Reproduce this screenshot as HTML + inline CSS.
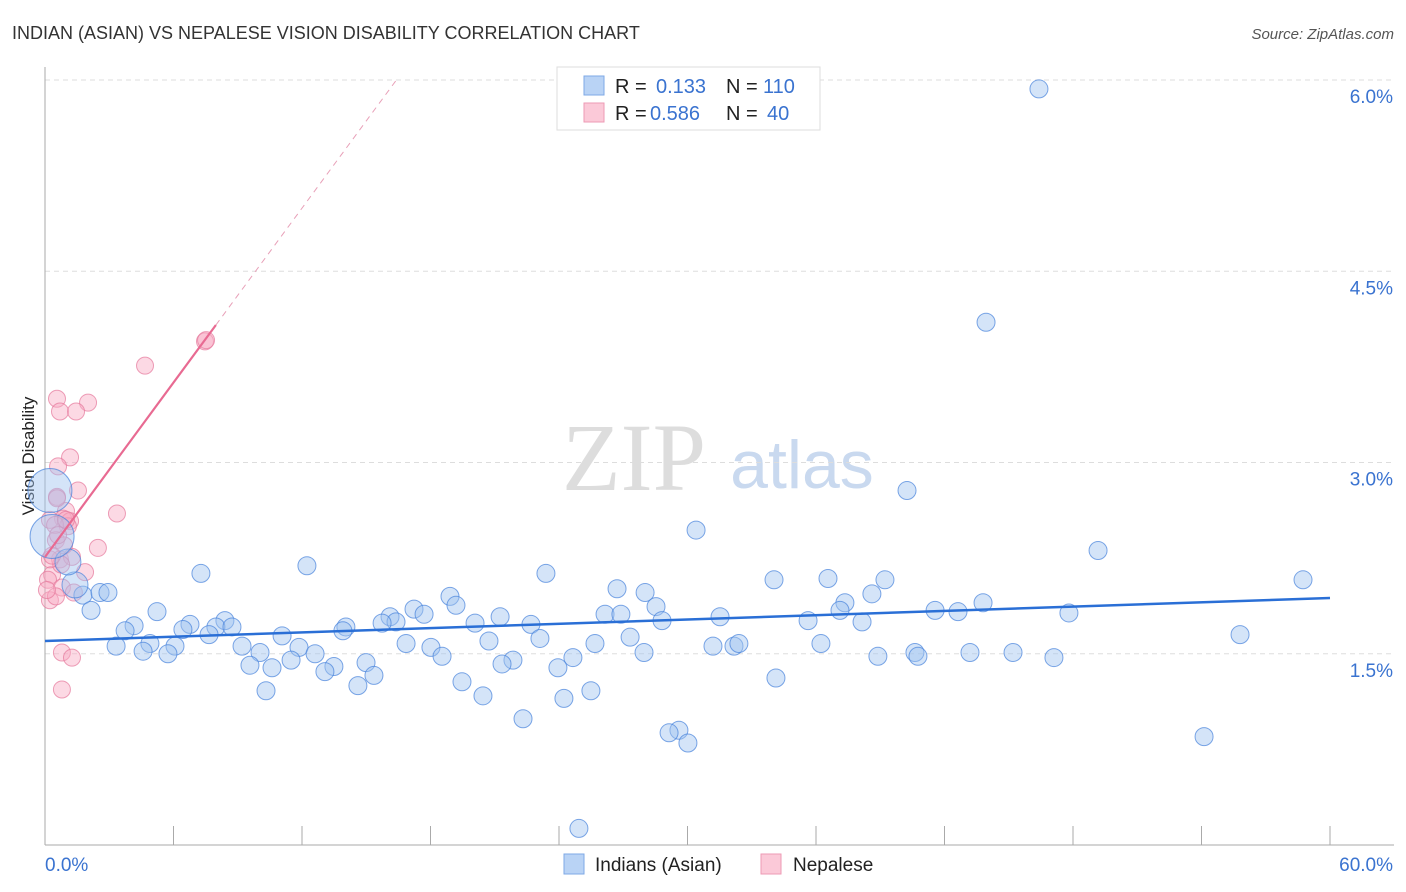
<!DOCTYPE html>
<html><head><meta charset="utf-8">
<style>
body{margin:0;background:#fff;font-family:"Liberation Sans",sans-serif;}
svg{display:block}
</style></head>
<body>
<svg id="chart" width="1406" height="892">
<text x="12" y="39" font-size="18" fill="#333">INDIAN (ASIAN) VS NEPALESE VISION DISABILITY CORRELATION CHART</text>
<text x="1394" y="39" font-size="15" fill="#555" font-style="italic" text-anchor="end">Source: ZipAtlas.com</text>
<text transform="translate(34,456) rotate(-90)" font-size="17" fill="#222" text-anchor="middle">Vision Disability</text>
<g>
<text x="634" y="490" font-size="96" fill="#ddd" font-family="Liberation Serif,serif" text-anchor="middle">ZIP</text>
<text x="802" y="488" font-size="68" fill="#c9d9ef" text-anchor="middle">atlas</text>
</g>
<g id="grid"></g><g id="marks"></g><g id="lines"></g>
<g>
<rect x="557" y="67" width="263" height="63" fill="#fff" stroke="#ddd"/>
<rect x="584" y="76" width="20" height="19" fill="#b9d3f5" stroke="#7ea8e6"/>
<rect x="584" y="103" width="20" height="19" fill="#fbc9d8" stroke="#ee9ab4"/>
<text x="615" y="93" font-size="20" fill="#222">R = </text><text x="656" y="93" font-size="20" fill="#3a73d0">0.133</text>
<text x="726" y="93" font-size="20" fill="#222">N = </text><text x="763" y="93" font-size="20" fill="#3a73d0">110</text>
<text x="615" y="120" font-size="20" fill="#222">R = </text><text x="650" y="120" font-size="20" fill="#3a73d0">0.586</text>
<text x="726" y="120" font-size="20" fill="#222">N = </text><text x="767" y="120" font-size="20" fill="#3a73d0">40</text>
</g>
<g>
<rect x="564" y="854" width="20" height="20" fill="#b9d3f5" stroke="#7ea8e6"/>
<text x="595" y="871" font-size="19" fill="#222">Indians (Asian)</text>
<rect x="761" y="854" width="20" height="20" fill="#fbc9d8" stroke="#ee9ab4"/>
<text x="793" y="871" font-size="19" fill="#222">Nepalese</text>
</g>
</svg>
<script>
const yTicks=[1.5,3.0,4.5,6.0];
const xTickVals=[0,6,12,18,24,30,36,42,48,54,60];
const blueX=[(1039),(986),(907),(696),(1098),(1303),(307),(201),(546),(774),(828),(885),(617),(645),(872),(450),(83),(100),(108),(75),(68),(52),(50),(91),(157),(456),(414),(424),(656),(845),(983),(935),(958),(1069),(605),(621),(500),(531),(390),(396),(382),(225),(190),(216),(232),(134),(183),(475),(662),(720),(808),(862),(840),(346),(343),(125),(209),(282),(540),(630),(116),(150),(175),(242),(299),(406),(431),(489),(595),(713),(734),(739),(821),(1240),(143),(168),(260),(315),(442),(513),(573),(644),(878),(915),(918),(970),(1013),(1054),(250),(272),(291),(334),(325),(366),(374),(502),(558),(462),(358),(266),(483),(591),(564),(776),(523),(679),(669),(688),(1204),(579)].map(p=>+((p-45)/1285*60).toFixed(2));
const blueY=[89,322,490,530,550,580,566,573,573,580,578,580,589,593,594,596,595,593,593,585,562,537,490,611,612,605,609,614,607,603,603,610,612,613,614,614,617,624,617,622,623,620,625,627,627,626,629,623,620,617,621,622,611,627,631,631,634,636,638,637,646,643,646,646,647,643,648,641,643,646,646,644,643,634,651,654,653,654,656,660,657,652,656,653,656,652,652,658,665,668,660,666,671,663,676,664,668,682,686,691,696,691,699,678,719,730,733,743,736,829].map(p=>+((845-p)/127.5).toFixed(2));
const blueR=blueY.map((v,i)=>i===21||i===22?22:(i===19||i===20?13:9));
const pinkX=[205,145,57,60,88,76,70,58,78,57,66,63,70,117,50,68,55,60,72,98,85,52,48,62,74,50,56,61,50,62,72,62,56,64,47,52,206,57,66,58].map(p=>+((p-45)/1285*60).toFixed(2));
const pinkY=[341,366,399,412,403,412,457,466,490,497,511,519,521,514,520,526,525,560,557,548,572,575,580,588,592,600,597,565,560,653,657,689,540,545,590,555,340,498,520,535].map(p=>+((845-p)/127.5).toFixed(2));
const blueTrend=[1.60,0.00562];
const pinkTrend=[2.259,0.228];
const X=v=>45+v/60*1285, Y=v=>845-v*127.5;
const NS="http://www.w3.org/2000/svg";
function mk(tag,attrs,parent){const e=document.createElementNS(NS,tag);for(const k in attrs)e.setAttribute(k,attrs[k]);parent.appendChild(e);return e;}
const grid=document.getElementById('grid'),marks=document.getElementById('marks'),lines=document.getElementById('lines');
yTicks.forEach(t=>{
 const l=mk('line',{x1:45,x2:1394,y1:Y(t),y2:Y(t),stroke:'#ddd','stroke-dasharray':'5,4'},grid);
 
 
 const tx=mk('text',{x:1393,y:Y(t)+23,'font-size':19,fill:'#3a73d0','text-anchor':'end'},grid);
 tx.textContent=t.toFixed(1)+'%';
 
 
});
const ax=mk('line',{x1:45,x2:45,y1:67,y2:845,stroke:'#aaa'},grid);


const bx=mk('line',{x1:45,x2:1394,y1:845,y2:845,stroke:'#aaa'},grid);


xTickVals.forEach(t=>{
 const l=mk('line',{x1:X(t),x2:X(t),y1:826,y2:845,stroke:'#aaa'},grid);
 
 
});
[[0,'start',45],[60,'end',1393]].forEach(([v,a,x])=>{
 const tx=mk('text',{x:x,y:871,'font-size':19,fill:'#3a73d0','text-anchor':a},grid);
 tx.textContent=v.toFixed(1)+'%';
 
 
});
pinkX.forEach((v,i)=>{
 const c=mk('circle',{cx:X(v),cy:Y(pinkY[i]),r:8.5,fill:'rgba(248,170,195,0.45)',stroke:'rgba(230,120,155,0.7)','stroke-width':1},marks);
 
 
});
blueX.forEach((v,i)=>{
 const c=mk('circle',{cx:X(v),cy:Y(blueY[i]),r:blueR[i],fill:'rgba(160,195,240,0.45)',stroke:'rgba(70,130,220,0.7)','stroke-width':1},marks);
 
 
});
const bl=mk('line',{x1:X(0),y1:Y(blueTrend[0]),x2:X(60),y2:Y(blueTrend[0]+blueTrend[1]*60),stroke:'#2a6fd6','stroke-width':2.5},lines);


const pe=7.98, pd=(6.0-pinkTrend[0])/pinkTrend[1];
const pl=mk('line',{x1:X(0),y1:Y(pinkTrend[0]),x2:X(pe),y2:Y(pinkTrend[0]+pinkTrend[1]*pe),stroke:'#e86a92','stroke-width':2.2},lines);


const pdl=mk('line',{x1:X(pe),y1:Y(pinkTrend[0]+pinkTrend[1]*pe),x2:X(pd),y2:Y(6.0),stroke:'#e8a0b8','stroke-width':1,'stroke-dasharray':'6,5'},lines);


</script>
</body></html>
